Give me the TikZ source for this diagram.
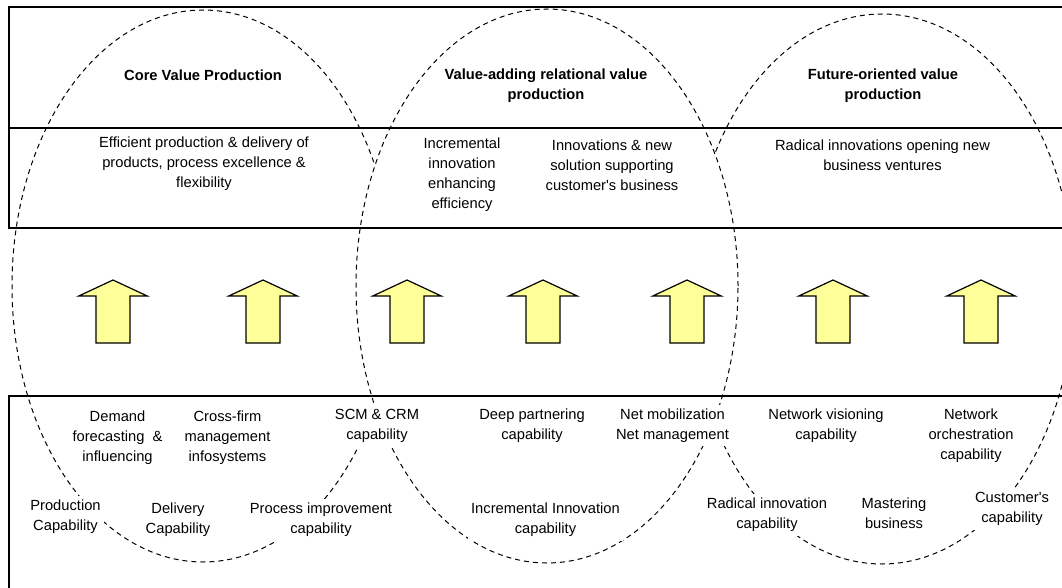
\documentclass[tikz,border=0pt]{standalone}
\usepackage{fontspec}
\setmainfont{Liberation Sans}
\definecolor{arrowyellow}{HTML}{FFFF99}
\tikzset{
  ell/.style={dash pattern=on 5pt off 4pt, line width=1pt, draw=black},
  frame/.style={line width=1.3pt, draw=black},
  arr/.style={draw=black, line width=1.2pt, fill=arrowyellow, line join=miter},
  txt/.style={font=\fontsize{14.7}{20}\selectfont, align=center, fill=white, inner xsep=3pt, inner ysep=4pt, text=black},
  ttl/.style={font=\fontsize{14.7}{20}\selectfont\bfseries, align=center, inner sep=2pt, text=black},
  uparrow/.pic={\draw[arr] (0,0) -- (34.2,16) -- (17,16) -- (17,63) -- (-17,63) -- (-17,16) -- (-34.2,16) -- cycle;}
}
\begin{document}
\begin{tikzpicture}[x=1pt,y=-1pt]
\useasboundingbox (0,0) rectangle (1062,588);
\clip (0,0) rectangle (1062,588);
% ellipses (middle one opaque, on top)
\draw[ell] (203,286) ellipse [x radius=191pt, y radius=276pt];
\draw[ell] (882,289) ellipse [x radius=192pt, y radius=275pt];
\draw[ell, fill=white] (547,286) ellipse [x radius=191pt, y radius=277pt];
% frames
\draw[frame] (1080,7) -- (9,7) -- (9,228) -- (1080,228);
\draw[frame] (9,128) -- (1080,128);
\draw[frame] (1080,396) -- (9,396) -- (9,600);
% arrows
\foreach \x/\n in {113/1,263/2,407/3,543/4,687/5,833/6,981/7}
  \pic (arrow\n) at (\x,280) {uparrow};
% titles
\node[ttl] (t1) at (203,75) {Core Value Production};
\node[ttl] (t2) at (546,86) {Value-adding relational value\\production};
\node[ttl] (t3) at (883,86) {Future-oriented value\\production};
% value band
\node[txt] (v1) at (204,164) {Efficient production \& delivery of\\products, process excellence \&\\flexibility};
\node[txt] (v2) at (462,174.5) {Incremental\\innovation\\enhancing\\efficiency};
\node[txt] (v3) at (612,165) {Innovations \& new\\solution supporting\\customer\textquotesingle s business};
\node[txt] (v4) at (882.5,155.5) {Radical innovations opening new\\business ventures};
% capabilities
\node[txt] (c1) at (117.5,438) {Demand\\forecasting~ \&\\influencing};
\node[txt] (c2) at (227.5,438) {Cross-firm\\management\\infosystems};
\node[txt] (c3) at (377,426) {SCM \& CRM\\capability};
\node[txt] (c4) at (65.5,517) {Production\\Capability};
\node[txt] (c5) at (178,520) {Delivery\\Capability};
\node[txt] (c6) at (321,520) {Process improvement\\capability};
\node[txt] (c7) at (532,425.5) {Deep partnering\\capability};
\node[txt] (c8) at (672.5,425.5) {Net mobilization\\Net management};
\node[txt] (c9) at (545.5,520) {Incremental Innovation\\capability};
\node[txt] (c10) at (826,425.5) {Network visioning\\capability};
\node[txt] (c11) at (971,436) {Network\\orchestration\\capability};
\node[txt] (c12) at (767,515) {Radical innovation\\capability};
\node[txt] (c13) at (894,513) {Mastering\\business};
\node[txt] (c14) at (1012,509) {Customer\textquotesingle s\\capability};
\end{tikzpicture}
\end{document}
